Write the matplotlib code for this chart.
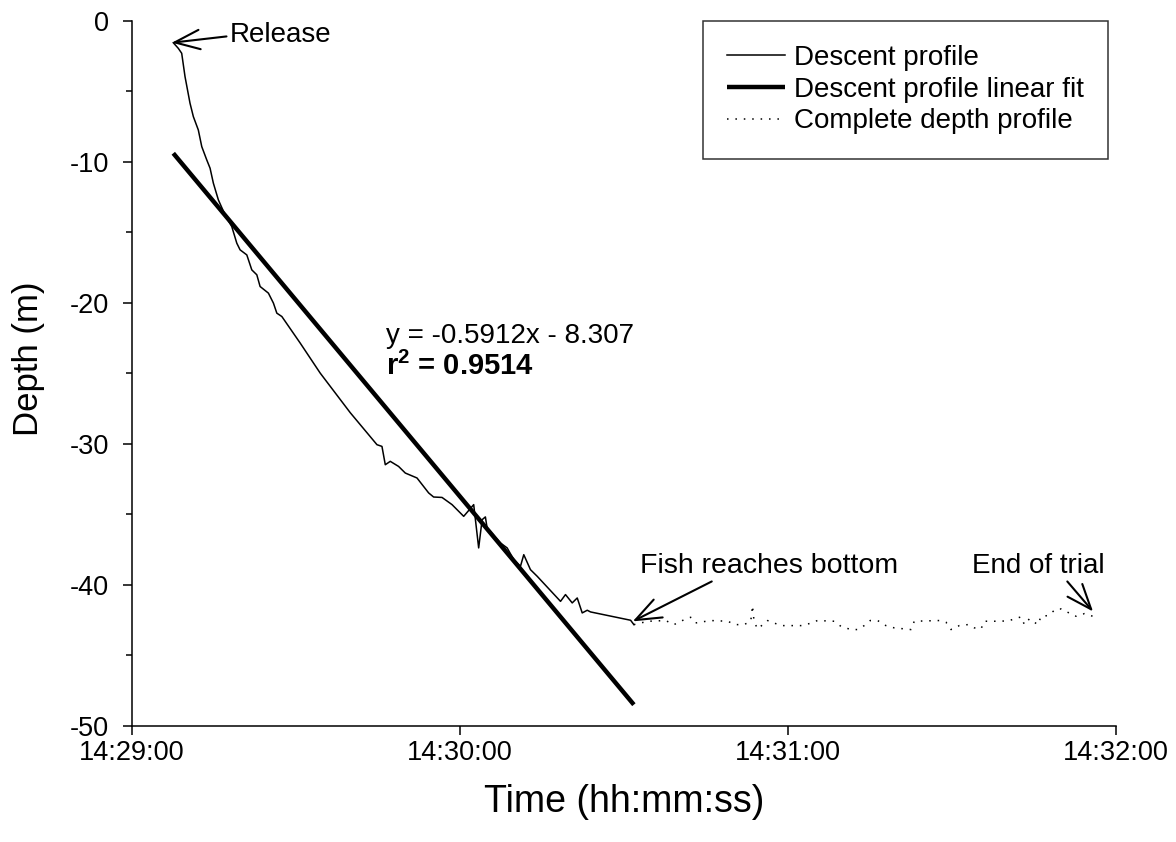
import matplotlib
matplotlib.use("Agg")
import matplotlib.pyplot as plt
from matplotlib.ticker import MultipleLocator, FixedLocator

plt.rcParams['font.family'] = ['Liberation Sans', 'DejaVu Sans']
plt.rcParams['mathtext.fontset'] = 'custom'
plt.rcParams['mathtext.rm'] = 'Liberation Sans'
plt.rcParams['mathtext.bf'] = 'Liberation Sans:bold'
plt.rcParams['axes.unicode_minus'] = False

# ---- data (time in seconds after 14:29:00, depth in m) ----
descent_t = [7.56, 8.48, 9.10, 9.71, 10.62, 11.23, 12.14, 12.77, 13.68, 14.29,
             14.89, 15.81, 17.03, 18.26, 19.18, 19.78, 21.01, 21.92, 22.84, 23.44,
             24.96, 25.88, 26.50, 27.42, 30.77, 34.43, 39.93, 44.82, 45.73, 46.34,
             47.25, 48.77, 50.00, 52.14, 54.27, 55.18, 56.72, 58.55, 60.68, 62.51,
             63.42, 64.05, 64.65, 64.96, 67.40, 68.63, 69.84, 71.06, 71.67, 72.89,
             74.12, 78.39, 79.30, 80.53, 81.45, 82.36, 83.28, 83.88, 91.21, 91.81]
descent_d = [-1.56, -1.96, -2.31, -3.97, -5.85, -6.80, -7.75, -8.93, -9.87, -10.46,
             -11.52, -12.71, -13.77, -14.60, -15.78, -16.25, -16.61, -17.67, -18.02, -18.85,
             -19.32, -20.03, -20.74, -20.98, -22.86, -24.99, -27.80, -30.07, -30.19, -31.49,
             -31.25, -31.61, -32.08, -32.43, -33.49, -33.78, -33.81, -34.32, -35.15, -34.32,
             -37.39, -35.39, -35.19, -35.97, -37.04, -37.39, -38.22, -38.70, -37.87, -38.93,
             -39.40, -41.18, -40.70, -41.29, -40.94, -42.00, -41.81, -41.93, -42.52, -42.83]

complete_t = [91.81, 93.04, 94.56, 97.62, 99.14, 100.68, 102.20, 103.11, 105.86, 108.92,
              110.44, 111.96, 113.19, 113.50, 113.79, 114.41, 115.02, 116.25, 117.77, 118.99,
              122.66, 123.86, 125.40, 128.44, 129.67, 131.50, 132.73, 133.94, 135.04, 136.39,
              137.91, 139.43, 142.49, 143.10, 147.67, 148.90, 149.82, 151.34, 152.88, 154.08,
              155.31, 155.92, 158.97, 160.49, 162.64, 163.24, 164.16, 165.70, 166.30, 167.53,
              169.05, 169.96, 171.19, 172.71, 174.23, 175.77]
complete_d = [-42.83, -42.71, -42.59, -42.54, -42.83, -42.54, -42.31, -42.71, -42.54, -42.59,
              -42.83, -42.83, -42.59, -41.48, -42.59, -43.13, -42.95, -42.54, -42.76, -42.90,
              -42.90, -42.76, -42.54, -42.59, -42.95, -43.18, -43.18, -42.90, -42.54, -42.54,
              -42.90, -43.06, -43.18, -42.59, -42.54, -42.66, -43.18, -42.90, -42.83, -43.06,
              -43.13, -42.59, -42.59, -42.54, -42.28, -42.83, -42.42, -42.83, -42.24, -42.19,
              -41.72, -41.72, -41.96, -42.24, -42.05, -42.24]

fit_slope = -0.5912
fit_intercept = -8.307
fit_x = [1.85, 68.0]          # fit abscissa (sample index) at descent start / end

tick_seconds = [0, 60, 120, 180]
tick_labels = ["14:29:00", "14:30:00", "14:31:00", "14:32:00"]

# ---- figure ----
fig = plt.figure(figsize=(11.76, 8.42), dpi=100)
ax = fig.add_axes([0.1122, 0.1381, 0.8368, 0.8373])

fit_t = [descent_t[0], descent_t[-1]]
fit_d = [fit_slope * x + fit_intercept for x in fit_x]

ax.plot(descent_t, descent_d, color='black', lw=1.1, label='Descent profile', zorder=3)
ax.plot(fit_t, fit_d, color='black', lw=3.2, solid_capstyle='butt',
        label='Descent profile linear fit', zorder=4)
ax.plot(complete_t, complete_d, color='black', lw=1.1, dashes=(1.0, 4.5),
        label='Complete depth profile', zorder=2)

ax.set_xlim(0, 180)
ax.set_ylim(-50, 0)
ax.xaxis.set_major_locator(FixedLocator(tick_seconds))
ax.set_xticklabels(tick_labels)
ax.yaxis.set_major_locator(MultipleLocator(10))
ax.yaxis.set_minor_locator(MultipleLocator(5))

for s in ['top', 'right']:
    ax.spines[s].set_visible(False)
for s in ['left', 'bottom']:
    ax.spines[s].set_linewidth(1.1)

ax.tick_params(axis='both', which='major', direction='out', length=6.5, width=1.1,
               labelsize=19.5)
ax.tick_params(axis='x', which='major', pad=4)
ax.tick_params(axis='y', which='major', pad=10)
ax.tick_params(axis='y', which='minor', direction='out', length=4, width=1.1)

ax.set_xlabel('Time (hh:mm:ss)', fontsize=27, labelpad=13)
ax.set_ylabel('Depth (m)', fontsize=25)
ax.yaxis.set_label_coords(-0.088, 0.52)

leg = ax.legend(loc='upper right', bbox_to_anchor=(0.992, 1.0), borderaxespad=0,
                fontsize=20, frameon=True, fancybox=False, edgecolor='black',
                handlelength=2.1, handletextpad=0.3, labelspacing=0.2,
                borderpad=0.88)
leg.get_frame().set_linewidth(1.1)

arrow_kw = dict(arrowstyle='->,head_length=0.9,head_width=0.35', color='black', lw=1.5,
                shrinkA=0, shrinkB=0)

ax.annotate('Release', xy=(7.3, -1.56), xytext=(17.8, -1.0), fontsize=20,
            ha='left', va='center',
            arrowprops=dict(relpos=(0, 0.45), **arrow_kw))
ax.annotate('Fish reaches bottom', xy=(91.6, -42.6), xytext=(116.5, -38.65), fontsize=20.5,
            ha='center', va='center',
            arrowprops=dict(relpos=(0.3, 0), **arrow_kw))
ax.annotate('End of trial', xy=(175.8, -41.9), xytext=(165.8, -38.65), fontsize=20,
            ha='center', va='center',
            arrowprops=dict(relpos=(0.7, 0), **arrow_kw))

ax.text(46.5, -22.36, 'y = -0.5912x - 8.307', fontsize=20, ha='left', va='center')
ax.text(46.5, -24.5, r'$\mathbf{r^2}$ = 0.9514', fontsize=21, ha='left', va='center',
        fontweight='bold')

fig.savefig('out.png', dpi=100)
